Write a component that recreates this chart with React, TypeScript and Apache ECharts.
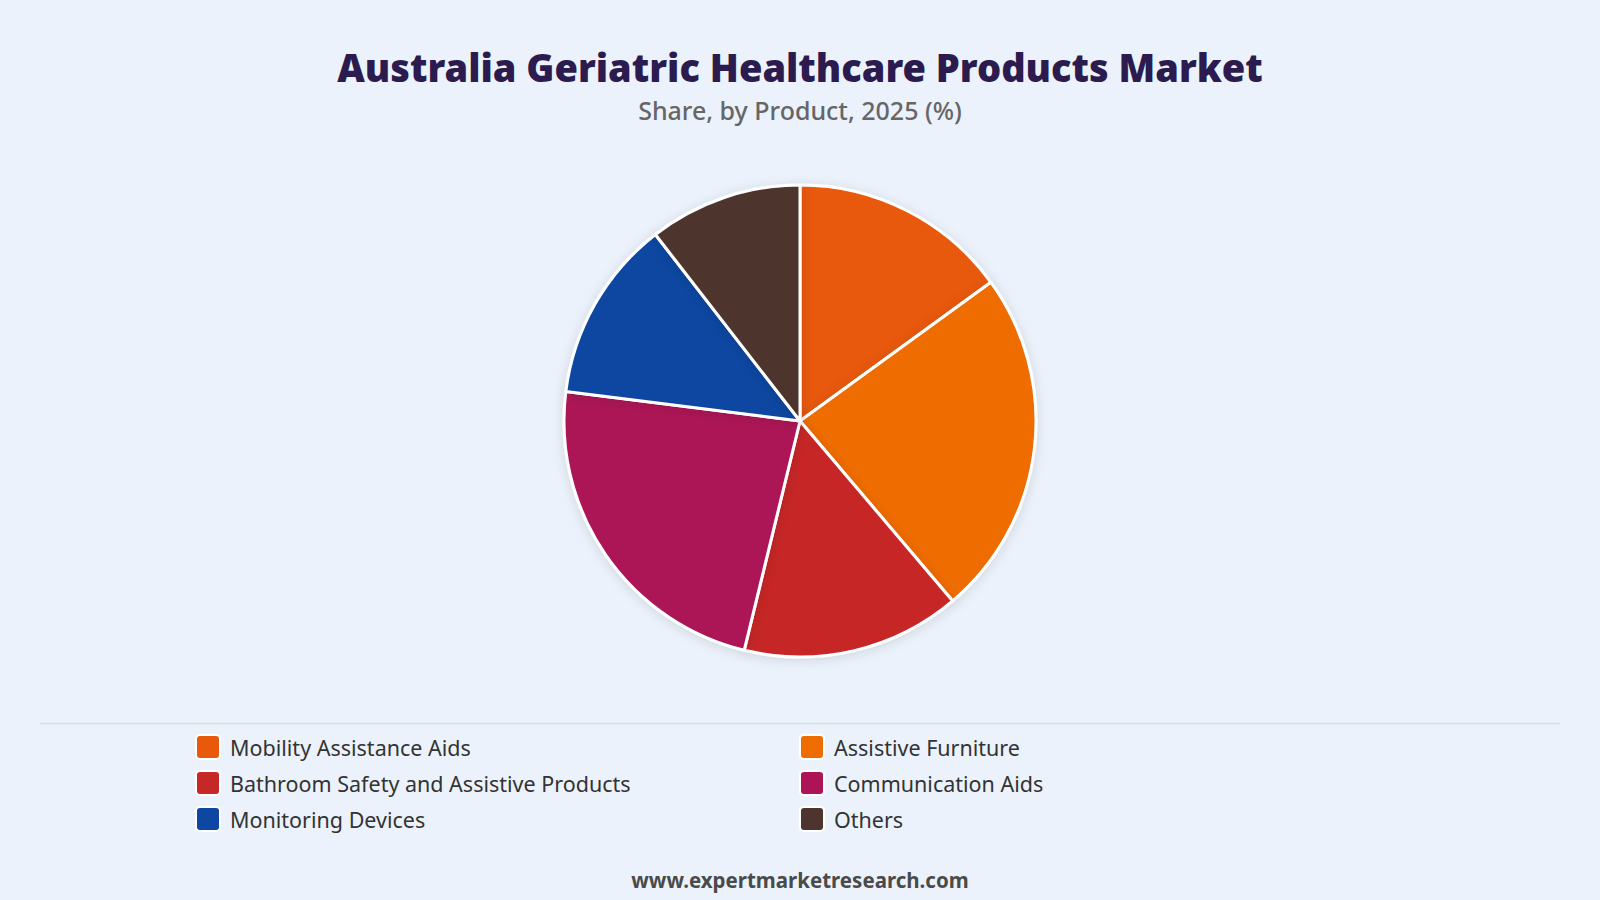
import React, { useEffect, useRef } from "react";
import * as echarts from "echarts";

const categories = [
  "Mobility Assistance Aids",
  "Assistive Furniture",
  "Bathroom Safety and Assistive Products",
  "Communication Aids",
  "Monitoring Devices",
  "Others",
];
const shares = [15.0, 23.8, 15.0, 23.2, 12.5, 10.5];
const colors = ["#E8590C", "#EF6C00", "#C62828", "#AD1457", "#0D47A1", "#4E342E"];

const titleText = "Australia Geriatric Healthcare Products Market";
const subtitleText = "Share, by Product, 2025 (%)";
const footerText = "www.expertmarketresearch.com";

export default function App() {
  const ref = useRef<HTMLDivElement>(null);
  useEffect(() => {
    if (!ref.current) return;
    const chart = echarts.init(ref.current, null, { renderer: "svg" });
    const data = categories.map((name, i) => ({
      name,
      value: shares[i],
      itemStyle: { color: colors[i] },
    }));
    const legendText = {
      fontFamily: "Noto Sans",
      fontSize: 21.5,
      lineHeight: 24,
      color: "#333333",
      padding: [0, 0, 0, 5],
    };
    const icon =
      "path://M4,0 L20,0 Q24,0 24,4 L24,20 Q24,24 20,24 L4,24 Q0,24 0,20 L0,4 Q0,0 4,0 Z";
    chart.setOption({
      animation: false,
      backgroundColor: "#EBF2FB",
      title: [
        {
          text: titleText,
          left: "center",
          top: 43,
          textStyle: {
            fontFamily: "Noto Sans",
            fontWeight: 900,
            fontSize: 38,
            color: "#2B1B4E",
          },
        },
        {
          text: subtitleText,
          left: "center",
          top: 92,
          textStyle: {
            fontFamily: "Noto Sans",
            fontWeight: 500,
            fontSize: 25,
            color: "#666666",
          },
        },
        {
          text: footerText,
          left: "center",
          top: 864,
          textStyle: {
            fontFamily: "Noto Sans",
            fontWeight: "bold",
            fontSize: 20.5,
            color: "#4A4A4A",
          },
        },
      ],
      legend: [
        {
          data: [categories[0], categories[2], categories[4]],
          orient: "vertical",
          left: 190,
          top: 729,
          itemWidth: 24,
          itemHeight: 24,
          itemGap: 10,
          icon,
          textStyle: legendText,
          selectedMode: false,
        },
        {
          data: [categories[1], categories[3], categories[5]],
          orient: "vertical",
          left: 794,
          top: 729,
          itemWidth: 24,
          itemHeight: 24,
          itemGap: 10,
          icon,
          textStyle: legendText,
          selectedMode: false,
        },
      ],
      graphic: [
        {
          type: "line",
          shape: { x1: 40, y1: 723.5, x2: 1560, y2: 723.5 },
          style: { stroke: "#D9DDE2", lineWidth: 1.5 },
        },
      ],
      series: [
        {
          type: "pie",
          center: [800, 421],
          radius: [0, 236],
          startAngle: 90,
          clockwise: true,
          label: { show: false },
          labelLine: { show: false },
          itemStyle: {
            borderColor: "#FFFFFF",
            borderWidth: 3,
            shadowBlur: 12,
            shadowColor: "rgba(0,0,0,0.12)",
            shadowOffsetY: 2,
          },
          emphasis: { disabled: true },
          data,
        },
      ],
    });
    return () => chart.dispose();
  }, []);
  return (
    <div
      ref={ref}
      style={{ position: "fixed", left: 0, top: 0, width: 1600, height: 900 }}
    />
  );
}
